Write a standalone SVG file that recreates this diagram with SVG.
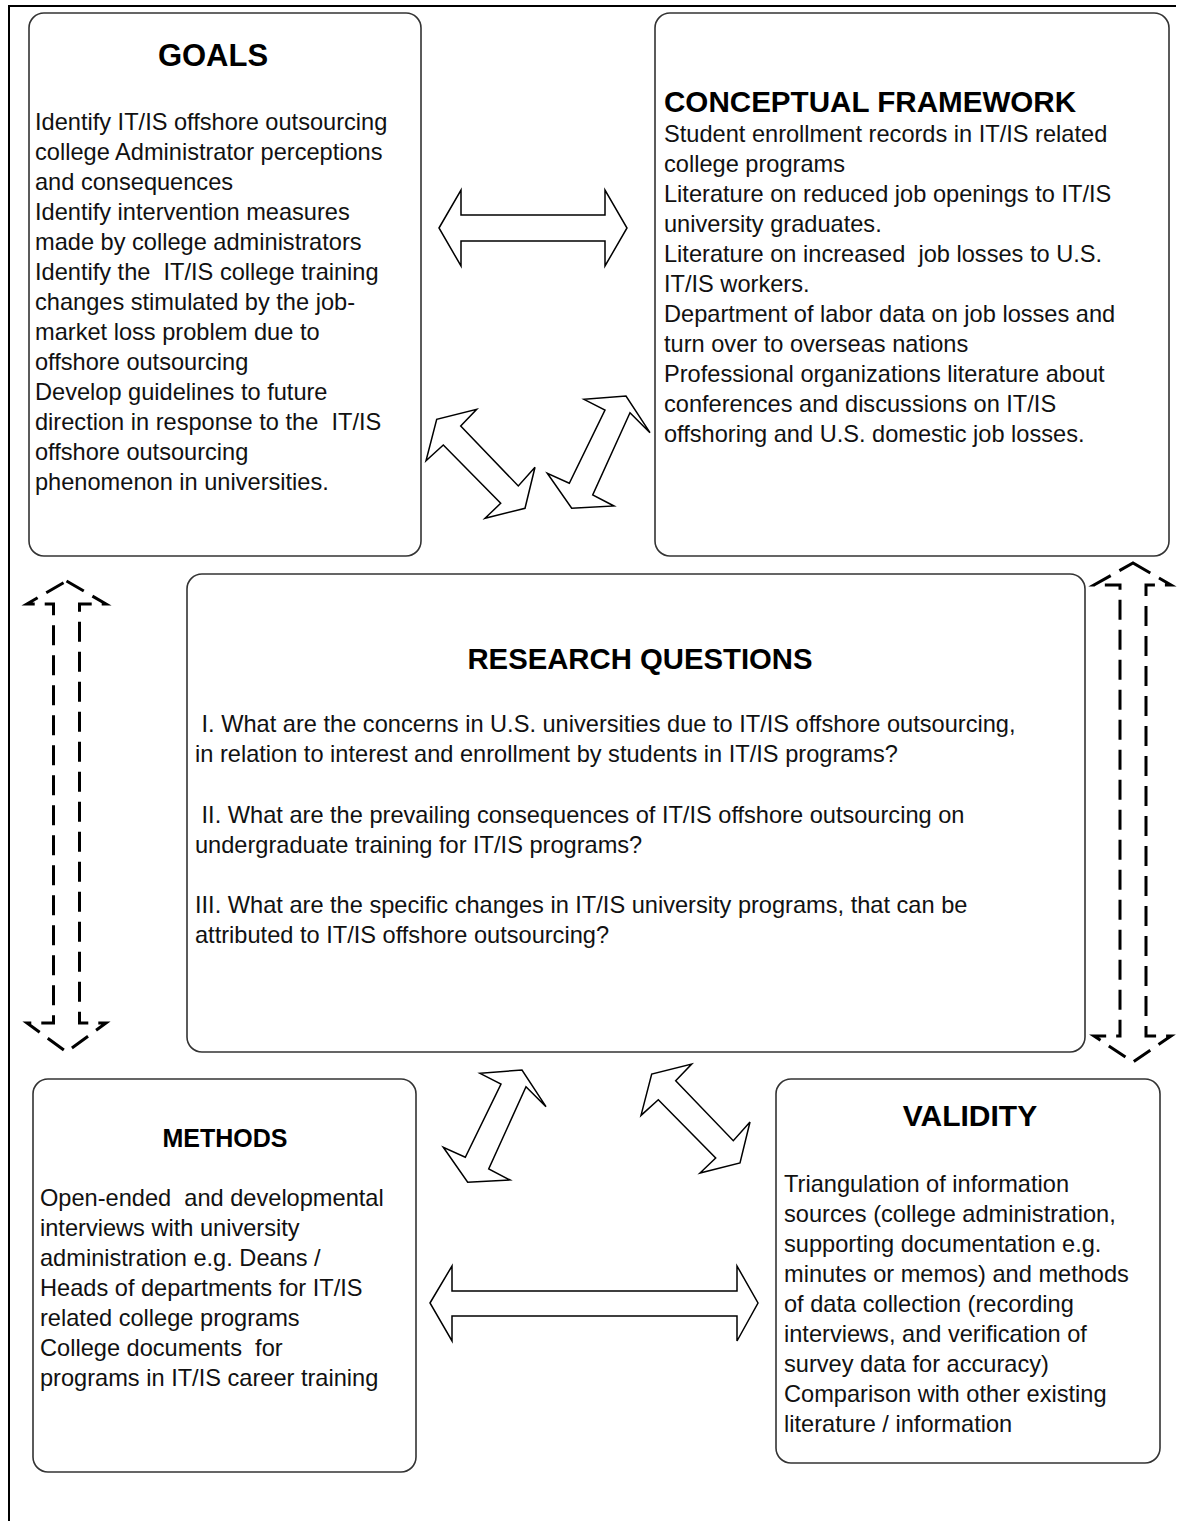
<svg xmlns="http://www.w3.org/2000/svg" width="1186" height="1521" viewBox="0 0 1186 1521">
  <style>
    .box { fill: #ffffff; stroke: #333333; stroke-width: 1.6; }
    .title { font-family: "Liberation Sans", Arial, sans-serif; font-weight: bold; fill: #000000; text-anchor: middle; }
    .body { font-family: "Liberation Sans", Arial, sans-serif; font-size: 23.6px; fill: #111111; white-space: pre; }
    .block { fill: #ffffff; stroke: #000000; stroke-width: 1.5; stroke-linejoin: miter; }
    .dashed { fill: none; stroke: #000000; stroke-width: 3; stroke-dasharray: 20 10; }
    .frame { stroke: #000000; stroke-width: 2; }
  </style>

  <rect width="1186" height="1521" fill="#ffffff"/>

  <!-- page frame -->
  <line class="frame" x1="8" y1="6" x2="1176" y2="6"/>
  <line class="frame" x1="9" y1="5" x2="9" y2="1521"/>

  <g id="goals">
    <rect class="box" x="29" y="13" width="392" height="543" rx="15"/>
    <text class="title" x="213" y="66" font-size="31">GOALS</text>
    <text class="body" x="35" y="130">Identify IT/IS offshore outsourcing</text>
    <text class="body" x="35" y="160">college Administrator perceptions</text>
    <text class="body" x="35" y="190">and consequences</text>
    <text class="body" x="35" y="220">Identify intervention measures</text>
    <text class="body" x="35" y="250">made by college administrators</text>
    <text class="body" x="35" y="280">Identify the  IT/IS college training</text>
    <text class="body" x="35" y="310">changes stimulated by the job-</text>
    <text class="body" x="35" y="340">market loss problem due to</text>
    <text class="body" x="35" y="370">offshore outsourcing</text>
    <text class="body" x="35" y="400">Develop guidelines to future</text>
    <text class="body" x="35" y="430">direction in response to the  IT/IS</text>
    <text class="body" x="35" y="460">offshore outsourcing</text>
    <text class="body" x="35" y="490">phenomenon in universities.</text>
  </g>

  <g id="conceptual-framework">
    <rect class="box" x="655" y="13" width="514" height="543" rx="15"/>
    <text class="title" x="664" y="112" font-size="29.6" style="text-anchor:start">CONCEPTUAL FRAMEWORK</text>
    <text class="body" x="664" y="142">Student enrollment records in IT/IS related</text>
    <text class="body" x="664" y="172">college programs</text>
    <text class="body" x="664" y="202">Literature on reduced job openings to IT/IS</text>
    <text class="body" x="664" y="232">university graduates.</text>
    <text class="body" x="664" y="262">Literature on increased  job losses to U.S.</text>
    <text class="body" x="664" y="292">IT/IS workers.</text>
    <text class="body" x="664" y="322">Department of labor data on job losses and</text>
    <text class="body" x="664" y="352">turn over to overseas nations</text>
    <text class="body" x="664" y="382">Professional organizations literature about</text>
    <text class="body" x="664" y="412">conferences and discussions on IT/IS</text>
    <text class="body" x="664" y="442">offshoring and U.S. domestic job losses.</text>
  </g>

  <g id="research-questions">
    <rect class="box" x="187" y="574" width="898" height="478" rx="15"/>
    <text class="title" x="640" y="669" font-size="29.3">RESEARCH QUESTIONS</text>
    <text class="body" x="195" y="732"> I. What are the concerns in U.S. universities due to IT/IS offshore outsourcing,</text>
    <text class="body" x="195" y="762">in relation to interest and enrollment by students in IT/IS programs?</text>
    <text class="body" x="195" y="823"> II. What are the prevailing consequences of IT/IS offshore outsourcing on</text>
    <text class="body" x="195" y="853">undergraduate training for IT/IS programs?</text>
    <text class="body" x="195" y="913">III. What are the specific changes in IT/IS university programs, that can be</text>
    <text class="body" x="195" y="943">attributed to IT/IS offshore outsourcing?</text>
  </g>

  <g id="methods">
    <rect class="box" x="33" y="1079" width="383" height="393" rx="15"/>
    <text class="title" x="225" y="1147" font-size="25">METHODS</text>
    <text class="body" x="40" y="1206">Open-ended  and developmental</text>
    <text class="body" x="40" y="1236">interviews with university</text>
    <text class="body" x="40" y="1266">administration e.g. Deans /</text>
    <text class="body" x="40" y="1296">Heads of departments for IT/IS</text>
    <text class="body" x="40" y="1326">related college programs</text>
    <text class="body" x="40" y="1356">College documents  for</text>
    <text class="body" x="40" y="1386">programs in IT/IS career training</text>
  </g>

  <g id="validity">
    <rect class="box" x="776" y="1079" width="384" height="384" rx="15"/>
    <text class="title" x="970" y="1126" font-size="30">VALIDITY</text>
    <text class="body" x="784" y="1192">Triangulation of information</text>
    <text class="body" x="784" y="1222">sources (college administration,</text>
    <text class="body" x="784" y="1252">supporting documentation e.g.</text>
    <text class="body" x="784" y="1282">minutes or memos) and methods</text>
    <text class="body" x="784" y="1312">of data collection (recording</text>
    <text class="body" x="784" y="1342">interviews, and verification of</text>
    <text class="body" x="784" y="1372">survey data for accuracy)</text>
    <text class="body" x="784" y="1402">Comparison with other existing</text>
    <text class="body" x="784" y="1432">literature / information</text>
  </g>

  <g id="connectors">
    <!-- goals <-> conceptual framework -->
    <polygon class="block" points="439,228 461,190 461,215 605,215 605,190 627,228 605,266 605,241 461,241 461,266"/>
    <!-- methods <-> validity -->
    <polygon class="block" points="430,1303 452,1266 452,1291 737,1291 737,1266 758,1303 737,1341 737,1316 452,1316 452,1341"/>
    <!-- goals <-> research questions -->
    <polygon class="block" points="443.3,445 426,460.7 436.7,419.3 476.7,409.3 460.7,426 518.3,486 535,467.3 525,508.3 485,518.3 500.7,503.3"/>
    <!-- conceptual framework <-> research questions -->
    <polygon class="block" points="547.3,473.3 571.7,508.3 614,506 592.7,495 630,412.7 650,432.7 626,396 584,399.3 605,410 569.3,483.3"/>
    <!-- research questions <-> methods -->
    <polygon class="block" points="443.3,1147.3 467.7,1182.3 510,1180 488.7,1169 526,1086.7 546,1106.7 522,1070 480,1073.3 501,1084 465.3,1157.3"/>
    <!-- research questions <-> validity -->
    <polygon class="block" points="658.3,1099.7 641,1115.4 651.7,1074 691.7,1064 675.7,1080.7 733.3,1140.7 750,1122 740,1163 700,1173 715.7,1158"/>
    <!-- dashed: goals <-> methods -->
    <path class="dashed" d="M66.5,581 L106,604 L79.5,604 L79.5,1023 L106,1023 L66.5,1052 L27,1023 L53.5,1023 L53.5,604 L27,604 Z"/>
    <!-- dashed: conceptual framework <-> validity -->
    <path class="dashed" d="M1133,563 L1171,585 L1146,585 L1146,1036 L1171,1036 L1133,1062 L1094,1036 L1120,1036 L1120,585 L1094,585 Z"/>
  </g>
</svg>
